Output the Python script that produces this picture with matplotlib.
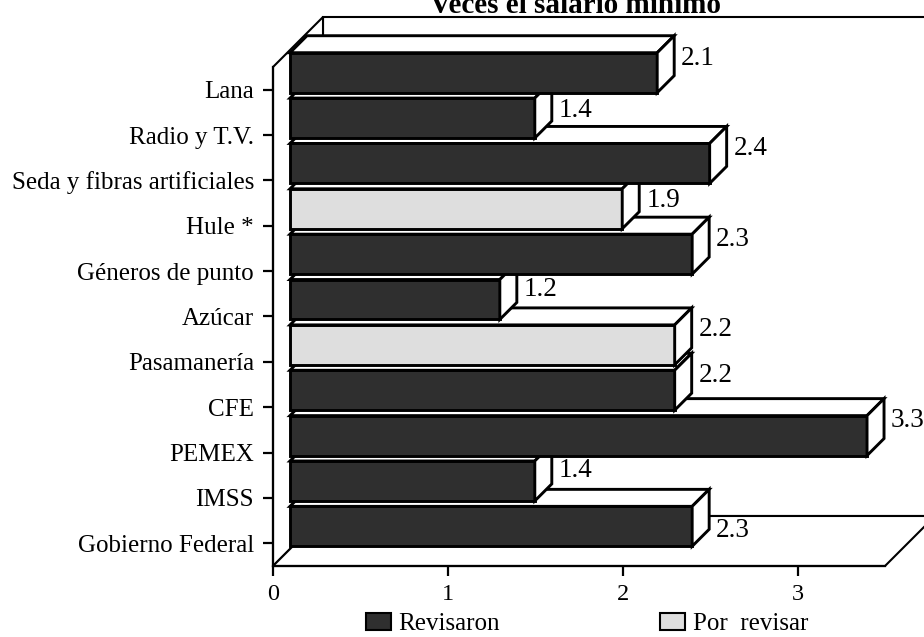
import matplotlib
matplotlib.use("Agg")
import matplotlib.pyplot as plt
from matplotlib.patches import Polygon, Patch

plt.rcParams['font.family'] = ['Liberation Serif', 'DejaVu Serif']

# datos (de abajo hacia arriba)
categorias = ["Gobierno Federal", "IMSS", "PEMEX", "CFE", "Pasamanería", "Azúcar",
              "Géneros de punto", "Hule *", "Seda y fibras artificiales",
              "Radio y T.V.", "Lana"]
veces = [2.3, 1.4, 3.3, 2.2, 2.2, 1.2, 2.3, 1.9, 2.4, 1.4, 2.1]
estado = ["Revisaron", "Revisaron", "Revisaron", "Revisaron", "Por revisar", "Revisaron",
          "Revisaron", "Por revisar", "Revisaron", "Revisaron", "Revisaron"]
etiquetas = ["2.3", "1.4", "3.3", "2.2", "2.2", "1.2", "2.3", "1.9", "2.4", "1.4", "2.1"]
x_ticks = [0, 1, 2, 3]

# estilo
colores = {"Revisaron": "#2f2f2f", "Por revisar": "#dedede"}
ajuste_etiqueta = [21, 7, 2, 2, 1.5, 7, 2, 9, 2, 9, 3]   # px hacia abajo
prof, z1, z2 = 50, 17, 34        # profundidad en pixeles
alto = 0.88

fig = plt.figure(figsize=(9.24, 6.37), dpi=100)
W, H = 924, 637
ax = fig.add_axes([273 / W, (H - 566) / H, 612 / W, (566 - 67) / H])
ax.set_xlim(0, 3.5)
ax.set_ylim(-0.5, len(categorias) - 0.5)
ax.patch.set_visible(False)

fig.canvas.draw()
o = ax.transData.transform((0, 0))
sx = ax.transData.transform((1, 0))[0] - o[0]
sy = ax.transData.transform((0, 1))[1] - o[1]


def p(v, c, z):
    # punto 3D -> coordenadas de datos con desplazamiento oblicuo
    return (v + z / sx, c + z / sy)


def cara(pts, fc, zo, lw=1.5):
    ax.add_patch(Polygon(pts, closed=True, facecolor=fc, edgecolor='black',
                         linewidth=lw, joinstyle='miter', clip_on=False, zorder=zo))


xmax = ax.get_xlim()[1]
y0, y1 = ax.get_ylim()
# pared del fondo, pared izquierda y piso
cara([p(0, y0, prof), p(xmax, y0, prof), p(xmax, y1, prof), p(0, y1, prof)], 'white', 1)
cara([p(0, y0, 0), p(0, y1, 0), p(0, y1, prof), p(0, y0, prof)], 'white', 1.1)
cara([p(0, y0, 0), p(xmax, y0, 0), p(xmax, y0, prof), p(0, y0, prof)], 'white', 1.2)

for i, (v, e) in enumerate(zip(veces, estado)):
    b, t = i - alto / 2, i + alto / 2
    zo = 3 + i
    cara([p(0, b, z1), p(v, b, z1), p(v, t, z1), p(0, t, z1)], colores[e], zo, 2.1)
    cara([p(0, t, z1), p(v, t, z1), p(v, t, z2), p(0, t, z2)], 'white', zo, 2.1)
    cara([p(v, b, z1), p(v, t, z1), p(v, t, z2), p(v, b, z2)], 'white', zo, 2.1)

for i, (v, lab) in enumerate(zip(veces, etiquetas)):
    ax.text(*p(v, i, 0), lab, fontsize=19.5, ha='left', va='center', zorder=30,
            transform=ax.transData + matplotlib.transforms.ScaledTranslation(
                (z2 + 7) / 100, (z2 - ajuste_etiqueta[i]) / 100, fig.dpi_scale_trans),
            clip_on=False)

ax.set_yticks(range(len(categorias)))
ax.set_yticklabels(categorias, fontsize=18)
ax.set_xticks(x_ticks)
ax.set_xticklabels([str(t) for t in x_ticks], fontsize=17.5)
for s in ['top', 'right']:
    ax.spines[s].set_visible(False)
for s in ['left', 'bottom']:
    ax.spines[s].set_linewidth(1.6)
    ax.spines[s].set_zorder(2)
ax.tick_params(axis='both', direction='out', length=7.2, width=1.6)
ax.tick_params(axis='y', pad=6.5)
ax.tick_params(axis='x', pad=6)

fig.text(576 / W, 1 - 13 / H, "Veces el salario mínimo", ha='center', va='baseline',
         fontsize=21, fontweight='bold')

handles = [Patch(facecolor=colores["Revisaron"], edgecolor='black', linewidth=1.5),
           Patch(facecolor=colores["Por revisar"], edgecolor='black', linewidth=1.5)]
fig.legend(handles, ["Revisaron", "Por  revisar"], ncol=2, loc='center',
           bbox_to_anchor=(587 / W, 1 - 624 / H), frameon=False, fontsize=18,
           handlelength=1.0, handleheight=0.7, handletextpad=0.3,
           columnspacing=6.4, borderpad=0, borderaxespad=0)

fig.savefig("out.png", dpi=100)
